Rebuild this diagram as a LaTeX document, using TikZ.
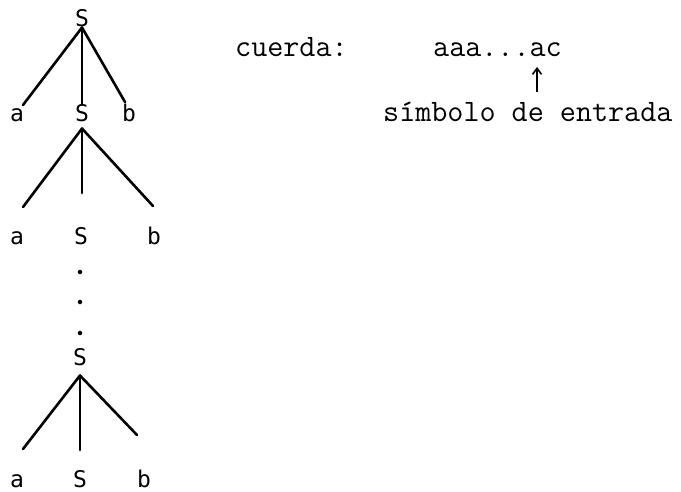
\documentclass[tikz,border=0pt]{standalone}
\usepackage{fontspec}
\newfontfamily\treefont{DejaVu Sans Mono}
\usetikzlibrary{arrows.meta}

\begin{document}
\begin{tikzpicture}[x=1pt,y=-1pt,
  sym/.style={font=\treefont\fontsize{23}{23}\selectfont,inner sep=0pt,anchor=base},
  txt/.style={font=\ttfamily\fontsize{31.2}{31.2}\selectfont,inner sep=0pt,anchor=base west},
  branch/.style={line width=2.6pt,line cap=round},
  dot/.style={circle,fill,inner sep=1.6pt},
  pointer/.style={line width=1.6pt,-{Straight Barb[length=6pt,width=9pt,line width=1.6pt]}}
]
  \useasboundingbox (0,0) rectangle (681,492);
  % top tree
  \node[sym] (s0) at (82,27) {S};
  \node[sym] (a1) at (17,122) {a};
  \node[sym] (s1) at (82,122) {S};
  \node[sym] (b1) at (129,122) {b};
  \coordinate (l1) at (23,105);
  \coordinate (r1) at (125,102);
  \draw[branch] (s0.south) -- (l1);
  \draw[branch] (s0.south) -- (s1.north);
  \draw[branch] (s0.south) -- (r1);
  % second level
  \node[sym] (a2) at (17,245) {a};
  \node[sym] (s2) at (81,245) {S};
  \node[sym] (b2) at (154,245) {b};
  \coordinate (l2) at (23,207);
  \coordinate (m2) at (82,193);
  \coordinate (r2) at (153,206);
  \draw[branch] ([yshift=-6pt]s1.south) -- (l2);
  \draw[branch] ([yshift=-6pt]s1.south) -- (m2);
  \draw[branch] ([yshift=-6pt]s1.south) -- (r2);
  % dots
  \node[dot] (d1) at (80,272) {};
  \node[dot] (d2) at (80,302) {};
  \node[dot] (d3) at (80,333) {};
  % last level
  \node[sym] (s3) at (80,365) {S};
  \node[sym] (a4) at (17,487) {a};
  \node[sym] (s4) at (80,487) {S};
  \node[sym] (b4) at (144,487) {b};
  \coordinate (l4) at (23,449);
  \coordinate (m4) at (80,450);
  \coordinate (r4) at (137,435);
  \draw[branch] ([yshift=-10pt]s3.south) -- (l4);
  \draw[branch] ([yshift=-10pt]s3.south) -- (m4);
  \draw[branch] ([yshift=-10pt]s3.south) -- (r4);
  % input string
  \node[txt] (lbl) at (235,57) {cuerda:};
  \node[txt] (str) at (433,57) {aaa...ac};
  \node[txt] (sim) at (383,122) {símbolo de entrada};
  \coordinate (ptrtail) at (537,92);
  \coordinate (ptrtip) at (537,67);
  \draw[pointer] (ptrtail) -- (ptrtip);
\end{tikzpicture}
\end{document}
